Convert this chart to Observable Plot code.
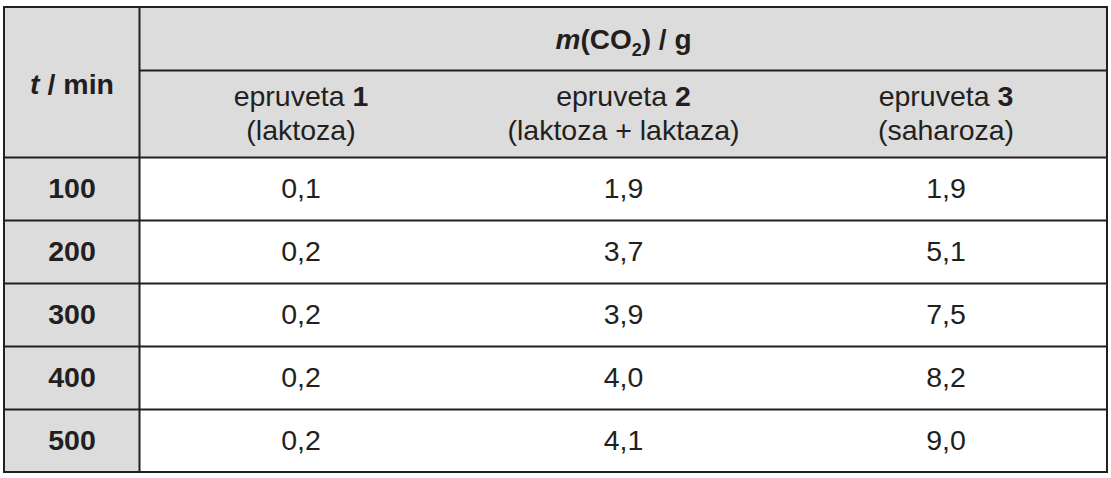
<!DOCTYPE html>
<html>
<head>
<meta charset="utf-8">
<script src="https://cdn.jsdelivr.net/npm/d3@7"></script>
<script src="https://cdn.jsdelivr.net/npm/@observablehq/plot@0.6"></script>
<style>
  body { margin: 0; background: #fff; }
</style>
</head>
<body>
<div id="chart"></div>
<script>
const times = [100, 200, 300, 400, 500];
const tube1 = [0.1, 0.2, 0.2, 0.2, 0.2];
const tube2 = [1.9, 3.7, 3.9, 4.0, 4.1];
const tube3 = [1.9, 5.1, 7.5, 8.2, 9.0];
const tubeNumbers = ["1", "2", "3"];
const tubeContents = ["laktoza", "laktoza + laktaza", "saharoza"];

// layout (pixel-like units of the table)
const colWidths = [135, 323, 322, 323];
const headTop = 63;
const headBottom = 87;
const rowHeight = 63;
const ink = "#231f20";
const shade = "#dcdcdc";

const colEdges = d3.cumsum([0, ...colWidths]);
const colCenter = (j) => (colEdges[j] + colEdges[j + 1]) / 2;
const headEnd = headTop + headBottom;
const rowEdges = [0, headTop, ...d3.range(times.length + 1).map((i) => headEnd + i * rowHeight)];
const totalW = colEdges[colEdges.length - 1];
const totalH = rowEdges[rowEdges.length - 1];

const comma = (v) => d3.format(".1f")(v).replace(".", ",");

// table of data cells
const cells = [];
times.forEach((t, i) => {
  [tube1, tube2, tube3].forEach((s, k) => {
    cells.push({ col: k + 1, row: i, value: comma(s[i]) });
  });
});
const timeCells = times.map((t, i) => ({ row: i, value: String(t) }));
const tubes = tubeNumbers.map((n, k) => ({ col: k + 1, n, contents: `(${tubeContents[k]})` }));

const rowMid = (i) => headEnd + i * rowHeight + rowHeight / 2;

// horizontal inner lines
const hLines = [
  { y: headTop, x1: colEdges[1], x2: totalW },
  ...rowEdges.slice(2, -1).map((y) => ({ y, x1: 0, x2: totalW })),
];
// vertical inner lines
const vLines = [
  { x: colEdges[1], y1: 0, y2: totalH },
  ...colEdges.slice(2, -1).map((x) => ({ x, y1: headTop, y2: totalH })),
];

const plt = Plot.plot({
  width: 1111,
  height: 478,
  x: { domain: [0, totalW], range: [4, 4 + totalW], axis: null },
  y: { domain: [0, totalH], range: [7, 7 + totalH], axis: null },
  style: {
    fontFamily: "'Liberation Sans', Arial, sans-serif",
    fontSize: "28px",
    background: "#fff",
    color: ink,
  },
  marks: [
    // shaded header and time column
    Plot.rect([0], { x1: 0, x2: totalW, y1: 0, y2: headEnd, fill: shade }),
    Plot.rect(timeCells, {
      x1: colEdges[0],
      x2: colEdges[1],
      y1: (d) => rowEdges[d.row + 2],
      y2: (d) => rowEdges[d.row + 3],
      fill: shade,
    }),
    Plot.ruleY(hLines, { y: "y", x1: "x1", x2: "x2", stroke: ink, strokeWidth: 2 }),
    Plot.ruleX(vLines, { x: "x", y1: "y1", y2: "y2", stroke: ink, strokeWidth: 2 }),
    Plot.rect([0], { x1: 0, x2: totalW, y1: 0, y2: totalH, fill: "none", stroke: ink, strokeWidth: 2 }),
    // header texts
    Plot.text(["t / min"], {
      x: colCenter(0),
      y: headEnd / 2 + 2,
      text: (d) => d,
      fill: ink,
      fontSize: 28.5,
      ariaLabel: () => "time-head",
    }),
    Plot.text(["m(CO2) / g"], {
      x: (colEdges[1] + totalW) / 2,
      y: headTop / 2 + 1,
      text: (d) => d,
      fill: ink,
      fontSize: 28,
      ariaLabel: () => "mass-head",
    }),
    Plot.text(tubes, {
      x: (d) => colCenter(d.col),
      y: headTop + headBottom / 2 - 17,
      text: (d) => `epruveta ${d.n}`,
      fill: ink,
      fontSize: 28.5,
      ariaLabel: () => "tube-head",
    }),
    Plot.text(tubes, {
      x: (d) => colCenter(d.col),
      y: headTop + headBottom / 2 + 17,
      text: "contents",
      fill: ink,
      fontSize: 28.5,
    }),
    // body
    Plot.text(timeCells, {
      x: colCenter(0),
      y: (d) => rowMid(d.row),
      text: "value",
      fill: ink,
      fontSize: 28.5,
      fontWeight: "bold",
    }),
    Plot.text(cells, {
      x: (d) => colCenter(d.col),
      y: (d) => rowMid(d.row),
      text: "value",
      fill: ink,
      fontSize: 28.5,
    }),
  ],
});

// mixed styles inside one label: Plot.text can't do that, so swap in tspans
function runs(svg, label, fn) {
  d3.select(svg)
    .selectAll(`text[aria-label="${label}"]`)
    .each(function (_, j) {
      const t = d3.select(this).text("");
      for (const r of fn(j)) {
        const ts = t.append("tspan").text(r.s);
        if (r.bold) ts.attr("font-weight", "bold");
        if (r.italic) ts.attr("font-style", "italic");
        if (r.size) ts.attr("font-size", r.size);
        if (r.dy) ts.attr("dy", r.dy);
      }
    });
}

runs(plt, "time-head", () => [
  { s: "t", bold: true, italic: true },
  { s: " / min", bold: true },
]);
runs(plt, "mass-head", () => [
  { s: "m", bold: true, italic: true },
  { s: "(CO", bold: true },
  { s: "2", bold: true, size: 18, dy: 7 },
  { s: ") / g", bold: true, dy: -7 },
]);
runs(plt, "tube-head", (j) => [
  { s: "epruveta " },
  { s: tubeNumbers[j], bold: true },
]);

document.querySelector("#chart").append(plt);
</script>
</body>
</html>
